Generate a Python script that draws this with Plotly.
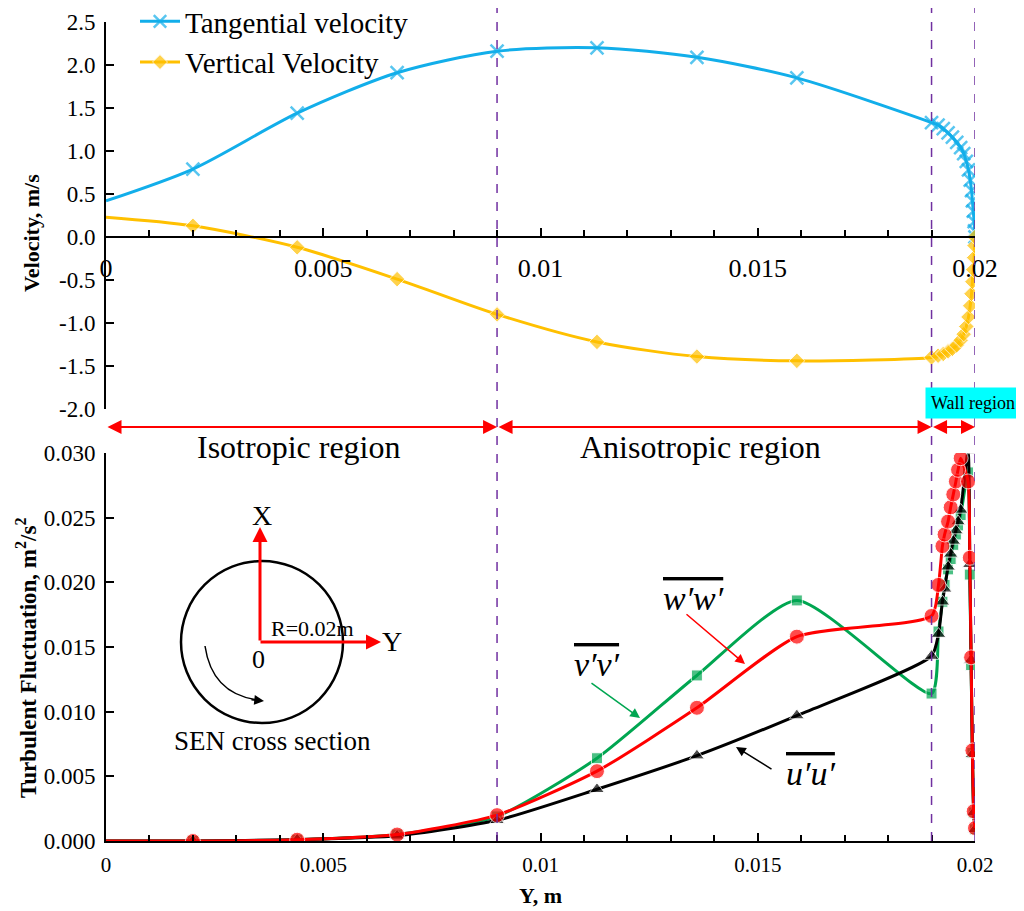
import plotly.graph_objects as go

# ---------------- data ----------------
x_core = [0, 0.002, 0.0044, 0.0067, 0.009, 0.0113, 0.0136, 0.0159]
x_wall_vel = [0.0190, 0.01915, 0.01927, 0.01938, 0.01948, 0.01958, 0.01967, 0.01974,
              0.0198, 0.01985, 0.01989, 0.01992, 0.01994, 0.01996, 0.01998, 0.01999, 0.02]
tangential_core = [0.42, 0.79, 1.44, 1.91, 2.16, 2.20, 2.09, 1.85]
tangential_wall = [1.33, 1.30, 1.26, 1.21, 1.16, 1.10, 1.04, 0.97, 0.88, 0.78, 0.66,
                   0.54, 0.42, 0.30, 0.18, 0.07, 0.0]
vertical_core = [0.23, 0.13, -0.12, -0.49, -0.90, -1.22, -1.39, -1.44]
vertical_wall = [-1.40, -1.38, -1.36, -1.33, -1.30, -1.26, -1.20, -1.13, -1.04, -0.93,
                 -0.80, -0.66, -0.52, -0.38, -0.24, -0.10, 0.0]

x_turb_core = [0, 0.002, 0.0044, 0.0067, 0.009, 0.0113, 0.0136, 0.0159, 0.0190]
x_turb_wall = [0.01916, 0.01925, 0.0193, 0.01938, 0.01944, 0.0195, 0.01956, 0.01961,
               0.01967, 0.01984, 0.01988, 0.01991, 0.01994, 0.01997, 0.02]
uu_core = [0, 0.0, 0.0001, 0.0004, 0.0016, 0.0040, 0.0066, 0.0097, 0.0143]
uu_wall = [0.0160, 0.0185, 0.0195, 0.0212, 0.0222, 0.0232, 0.0240, 0.0247, 0.0256,
           0.0302, 0.0214, 0.0140, 0.0067, 0.0022, 0.0009]
vv_core = [0, 0.0, 0.0001, 0.0005, 0.0019, 0.0064, 0.0128, 0.0186, 0.0114]
vv_wall = [0.0162, 0.0185, 0.0198, 0.0210, 0.0218, 0.0229, 0.0237, 0.0244, 0.0252,
           0.0285, 0.0206, 0.0136, 0.0068, 0.0022, 0.0009]
ww_core = [0, 0.0, 0.0001, 0.0005, 0.0020, 0.0054, 0.0103, 0.0158, 0.0174]
ww_wall = [0.0198, 0.0228, 0.0237, 0.0247, 0.0258, 0.0268, 0.0278, 0.0287, 0.0296,
           0.0278, 0.0219, 0.0142, 0.0070, 0.0023, 0.0010]

vel_ticks = [-2.0, -1.5, -1.0, -0.5, 0.0, 0.5, 1.0, 1.5, 2.0, 2.5]
turb_ticks = [0.0, 0.005, 0.010, 0.015, 0.020, 0.025, 0.030]
x_ticks = [0, 0.005, 0.01, 0.015, 0.02]
x_ticktext = ["0", "0.005", "0.01", "0.015", "0.02"]
region_bounds = [0, 0.009, 0.019, 0.02]
region_names = ["Isotropic region", "Anisotropic region", "Wall region"]

# ---------------- geometry helpers ----------------
# the page body has an 8px margin, so the figure is drawn 8px right/down
OFF = 8
W, H = 1024 - OFF, 911 - OFF
PLOT_L, PLOT_R, PLOT_T, PLOT_B = 106, 975, 22, 841   # in screen pixels
L, R, T, B = PLOT_L - OFF, (W + OFF) - PLOT_R, PLOT_T - OFF, (H + OFF) - PLOT_B
PW, PH = PLOT_R - PLOT_L, PLOT_B - PLOT_T
XMAX = 0.02


def px(x):
    return (x - PLOT_L) / PW


def py(y):
    return (PLOT_B - y) / PH


def dpx(xv):  # data x -> screen pixel x
    return PLOT_L + xv / XMAX * PW


FONT = "Liberation Serif, Times New Roman, serif"
BLUE, ORANGE, GREEN, RED, PURPLE = "#12AEEA", "#FFC000", "#00A651", "#FF0000", "#7030A0"

x_vel = x_core + x_wall_vel
x_turb = x_turb_core + x_turb_wall


def sizes(n, s):
    return [0] + [s] * (n - 1)


fig = go.Figure()

# ---- top: velocities ----
fig.add_trace(go.Scatter(
    x=x_vel, y=tangential_core + tangential_wall, name="Tangential velocity",
    mode="lines+markers", line=dict(color=BLUE, width=3, shape="spline", smoothing=0.8),
    marker=dict(symbol="x-thin", size=sizes(len(x_vel), 13), line=dict(color=BLUE, width=2.5), color=BLUE),
    xaxis="x", yaxis="y"))
fig.add_trace(go.Scatter(
    x=x_vel, y=vertical_core + vertical_wall, name="Vertical Velocity",
    mode="lines+markers", line=dict(color=ORANGE, width=3, shape="spline", smoothing=0.8),
    marker=dict(symbol="diamond", size=sizes(len(x_vel), 12), color=ORANGE),
    xaxis="x", yaxis="y"))

# ---- bottom: turbulent fluctuations ----
fig.add_trace(go.Scatter(
    x=x_turb, y=vv_core + vv_wall, name="v'v'", showlegend=False,
    mode="lines+markers", line=dict(color=GREEN, width=3, shape="spline", smoothing=0.6),
    marker=dict(symbol="square", size=sizes(len(x_turb), 11), color=GREEN),
    xaxis="x2", yaxis="y2"))
fig.add_trace(go.Scatter(
    x=x_turb, y=uu_core + uu_wall, name="u'u'", showlegend=False,
    mode="lines+markers", line=dict(color="black", width=3, shape="spline", smoothing=0.6),
    marker=dict(symbol="triangle-up", size=sizes(len(x_turb), 13), color="black"),
    xaxis="x2", yaxis="y2"))
fig.add_trace(go.Scatter(
    x=x_turb, y=ww_core + ww_wall, name="w'w'", showlegend=False,
    mode="lines+markers", line=dict(color=RED, width=3, shape="spline", smoothing=0.6),
    marker=dict(symbol="circle", size=sizes(len(x_turb), 15), color=RED),
    xaxis="x2", yaxis="y2"))

top_dom = [py(409), 1.0]
bot_dom = [0.0, py(453)]
zero_pos = top_dom[0] + (0 - vel_ticks[0]) / (vel_ticks[-1] - vel_ticks[0]) * (top_dom[1] - top_dom[0])

axis_common = dict(showline=True, linecolor="black", linewidth=2, showgrid=False,
                   zeroline=False, ticks="inside", ticklen=8, tickwidth=2, tickcolor="black")

fig.update_layout(
    width=W, height=H, margin=dict(l=L, r=R, t=T, b=B, autoexpand=False),
    paper_bgcolor="white", plot_bgcolor="rgba(0,0,0,0)",
    font=dict(family=FONT, color="black"),
    xaxis=dict(**axis_common, range=[0, XMAX], anchor="free", position=zero_pos,
               tickvals=x_ticks, ticktext=x_ticktext, tickfont=dict(size=26), ticklabelstandoff=8,
               minor=dict(dtick=0.001, ticks="inside", ticklen=6, tickwidth=1.5, tickcolor="black")),
    yaxis=dict(**axis_common, domain=top_dom, range=[vel_ticks[0], vel_ticks[-1]],
               anchor="x", tickvals=vel_ticks, ticktext=[f"{v:.1f}" for v in vel_ticks],
               tickfont=dict(size=23), ticklabelstandoff=4),
    xaxis2=dict(**axis_common, range=[0, XMAX], anchor="y2",
                tickvals=x_ticks, ticktext=x_ticktext, tickfont=dict(size=21), ticklabelstandoff=4,
                minor=dict(dtick=0.001, ticks="inside", ticklen=6, tickwidth=1.5, tickcolor="black")),
    yaxis2=dict(**axis_common, domain=bot_dom, range=[turb_ticks[0], turb_ticks[-1]],
                anchor="x2", tickvals=turb_ticks, ticktext=[f"{v:.3f}" for v in turb_ticks],
                tickfont=dict(size=23), ticklabelstandoff=4),
    legend=dict(x=px(135), y=py(-4), xanchor="left", yanchor="top",
                font=dict(size=29, family=FONT), bgcolor="rgba(0,0,0,0)",
                tracegroupgap=0, itemwidth=40),
)

shapes = []
# vertical dashed separators
for xv in region_bounds[1:]:
    shapes.append(dict(type="line", xref="x", yref="paper", x0=xv, x1=xv, y0=0, y1=py(2),
                       line=dict(color=PURPLE, width=1.5, dash="dash")))
# inset circle
shapes.append(dict(type="circle", xref="paper", yref="paper",
                   x0=px(181), x1=px(343), y0=py(723), y1=py(561),
                   line=dict(color="black", width=2.5)))
# curved arrow in inset
shapes.append(dict(type="path", xref="paper", yref="paper",
                   path=f"M {px(205)},{py(646)} Q {px(212)},{py(694)} {px(258)},{py(700)}",
                   line=dict(color="black", width=1.5)))
fig.update_layout(shapes=shapes)

ann = []


def arrow(x0, y0, x1, y1, color, width=2, head=2, size=1.2, both=False):
    """Arrow from screen pixel (x0, y0) to screen pixel (x1, y1)."""
    ann.append(dict(x=px(x1), y=py(y1), ax=x0 - x1, ay=y0 - y1, xref="paper", yref="paper",
                    axref="pixel", ayref="pixel",
                    text="", showarrow=True, arrowhead=head, arrowsize=size, arrowwidth=width,
                    arrowcolor=color, startarrowhead=head, startarrowsize=size,
                    arrowside="end+start" if both else "end", standoff=0, startstandoff=0))


def text(x, y, s, size, **kw):
    d = dict(x=px(x), y=py(y), xref="paper", yref="paper", text=s, showarrow=False,
             font=dict(size=size, family=FONT, color=kw.pop("color", "black")),
             xanchor=kw.pop("xanchor", "center"), yanchor=kw.pop("yanchor", "middle"))
    d.update(kw)
    ann.append(d)


# region arrows
for a, b in zip(region_bounds[:-1], region_bounds[1:]):
    arrow(dpx(a), 427, dpx(b), 427, RED, width=2, head=2, size=1.4, both=True)
text(299, 447, region_names[0], 32)
text(700, 447, region_names[1], 32)
text(973, 403, region_names[2], 18, bgcolor="#00FFFF", borderpad=5)

# axis titles
text(32, 233, "<b>Velocity, m/s</b>", 22, textangle=-90)
text(26, 658, "<b>Turbulent Fluctuation, m<sup>2</sup>/s<sup>2</sup></b>", 23, textangle=-90)
text(540, 895, "<b>Y, m</b>", 22)

# inset
arrow(260, 642, 260, 527, RED, width=3, head=2, size=1.0)
arrow(259, 642, 381, 642, RED, width=3, head=2, size=1.0)
arrow(250, 699.5, 264, 701, "black", width=1.5, head=2, size=1.3)
text(262, 515, "X", 28)
text(392, 641, "Y", 28)
text(312, 628, "R=0.02m", 22)
text(258, 659, "0", 26)
text(272, 741, "SEN cross section", 27)

# curve labels
OV = "<span style='text-decoration:overline'><i>{}</i></span>"
text(597, 664, OV.format("v′v′"), 34)
arrow(590, 682, 640, 718, GREEN, width=1.5, head=2, size=1.3)
text(693, 598, OV.format("w′w′"), 34)
arrow(685, 613, 745, 664, RED, width=1.5, head=2, size=1.3)
text(810, 773, OV.format("u′u′"), 34)
arrow(773, 770, 736, 747, "black", width=1.5, head=2, size=1.3)

fig.update_layout(annotations=ann)
fig.write_html("out.html")
